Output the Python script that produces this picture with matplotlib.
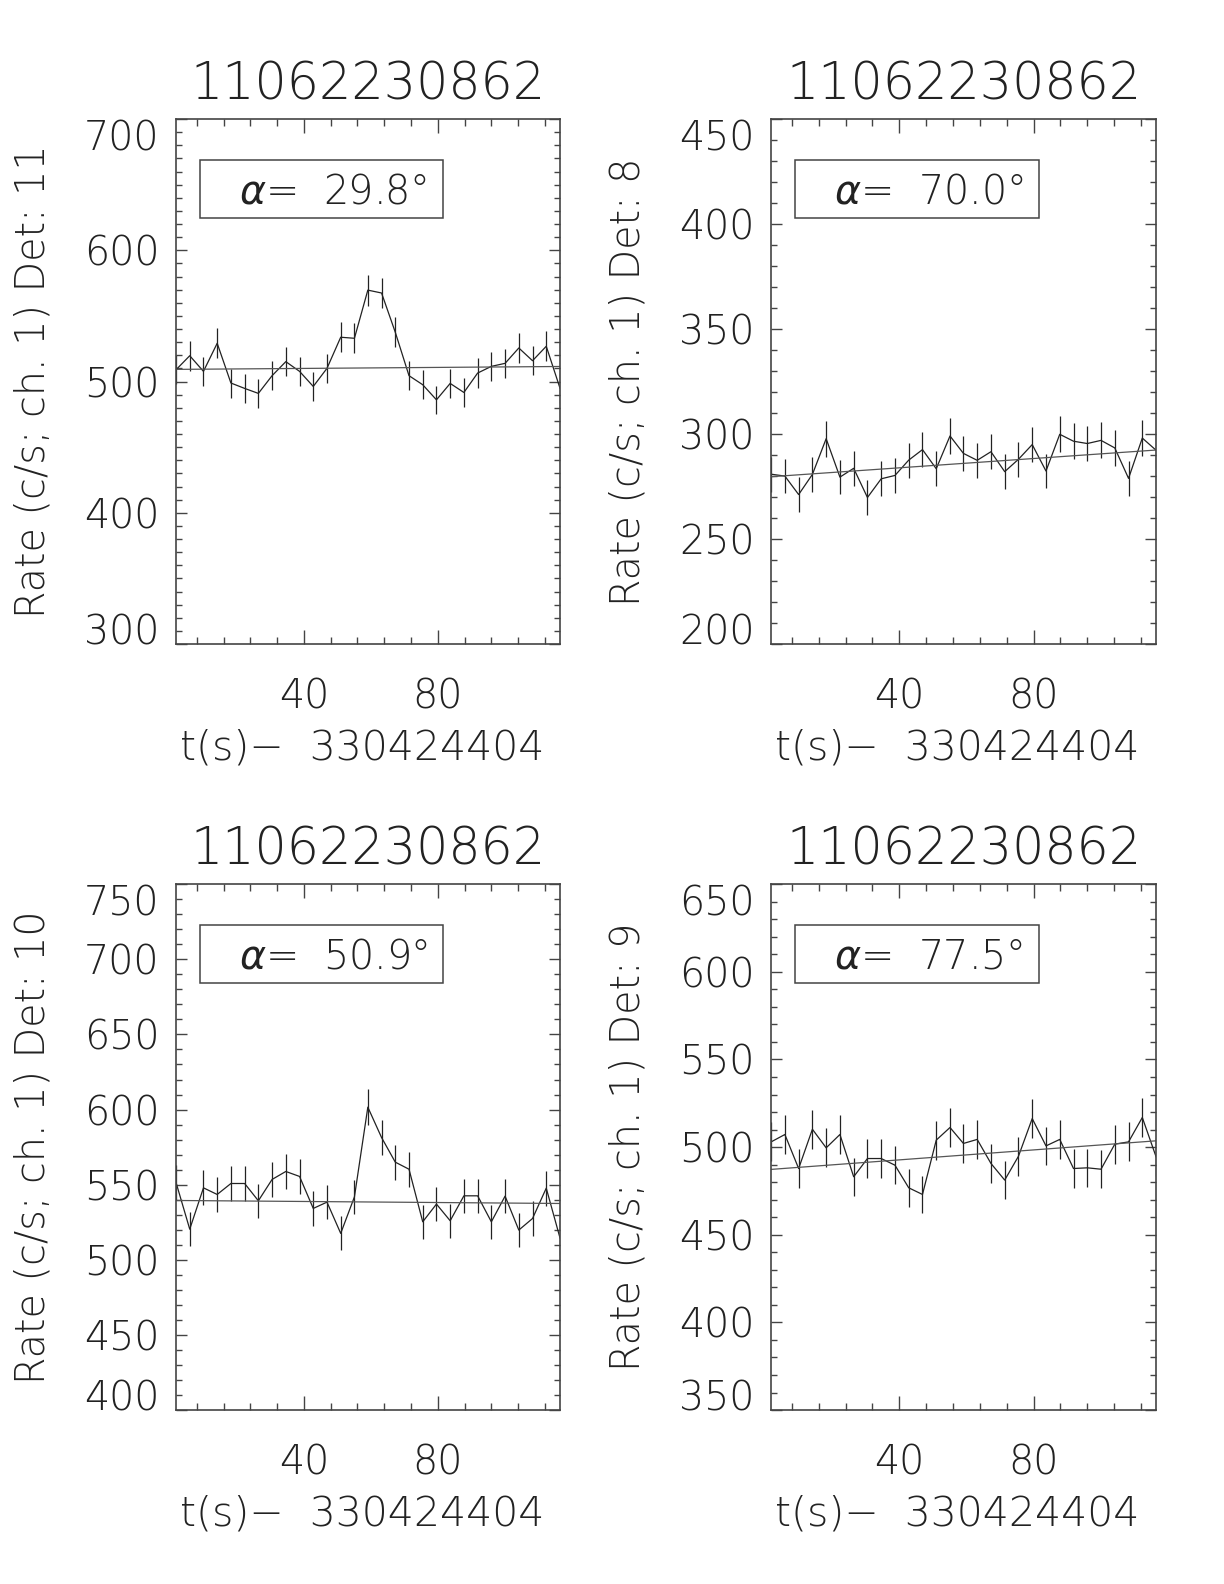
import matplotlib
matplotlib.use("Agg")
import matplotlib.pyplot as plt
from matplotlib.patches import Rectangle
from matplotlib.ticker import MultipleLocator, FixedLocator
import numpy as np

# bin times, s after t0 (4.096 s bins)
t = [1.8, 5.9, 10.0, 14.1, 18.2, 22.3, 26.4, 30.5, 34.6, 38.7,
     42.8, 46.9, 51.0, 55.1, 59.1, 63.2, 67.3, 71.4, 75.5, 79.6,
     83.7, 87.8, 91.9, 96.0, 100.1, 104.2, 108.3, 112.4, 116.5]
dt = 4.096

det11 = [509.0, 519.7, 507.8, 529.2, 498.9, 494.8, 491.0, 504.5, 515.2, 507.8,
         496.3, 510.1, 533.8, 533.0, 569.7, 567.5, 537.6, 504.5, 497.6, 486.1,
         498.6, 491.7, 506.5, 511.6, 513.9, 525.6, 515.9, 526.9, 495.0]
det8 = [280.9, 280.0, 271.2, 280.8, 297.8, 279.5, 283.7, 269.8, 278.7, 280.3,
        287.6, 292.6, 283.5, 299.1, 290.8, 287.5, 291.6, 282.1, 288.0, 295.0,
        282.4, 299.9, 296.6, 295.5, 297.0, 293.4, 278.9, 298.1, 292.3]
det10 = [551.5, 520.4, 547.9, 543.5, 550.8, 550.8, 539.3, 553.5, 558.8, 555.5,
         534.2, 538.4, 517.6, 541.9, 601.6, 581.4, 565.0, 560.3, 525.3, 537.1,
         526.0, 542.6, 542.6, 525.3, 542.4, 519.8, 527.5, 547.7, 514.6]
det9 = [503.0, 507.2, 487.8, 510.2, 499.6, 507.2, 483.1, 493.5, 493.5, 489.7,
        476.8, 473.0, 504.0, 511.2, 502.1, 504.4, 490.7, 481.2, 494.8, 516.3,
        500.7, 504.4, 487.8, 488.2, 487.4, 501.7, 503.0, 516.9, 494.5]

# background fit: value at first and last bin
fit11 = [509.3, 511.5]
fit8 = [279.7, 292.4]
fit10 = [539.5, 537.5]
fit9 = [487.3, 503.6]

detectors = [11, 8, 10, 9]
alphas = [29.8, 70.0, 50.9, 77.5]
ylims = [(300, 700), (200, 450), (400, 750), (350, 650)]
ysteps = [100, 50, 50, 50]
burst = "11062230862"
t0 = 330424404

rates = [det11, det8, det10, det9]
fits = [fit11, fit8, fit10, fit9]

plt.rcParams["font.family"] = ["DejaVu Sans"]
plt.rcParams["font.weight"] = "light"
plt.rcParams["mathtext.fontset"] = "dejavusans"

ink = "#222222"
fs = 28.5

fig = plt.figure(figsize=(12.24, 15.84), dpi=100)
rects = [[0.1438, 0.5934, 0.3137, 0.3314],
         [0.6300, 0.5934, 0.3145, 0.3314],
         [0.1438, 0.1098, 0.3137, 0.3320],
         [0.6300, 0.1098, 0.3145, 0.3320]]
ylab_x = [0.027, 0.513, 0.027, 0.513]

for i in range(4):
    ax = fig.add_axes(rects[i])
    r = np.array(rates[i])
    err = np.sqrt(r / dt)
    ax.plot(t, r, color=ink, lw=0.9)
    ax.errorbar(t, r, yerr=err, fmt="none", ecolor=ink, elinewidth=0.9, capsize=0)
    ax.plot([t[0], t[-1]], fits[i], color="#555555", lw=0.9)

    ax.set_xlim(t[0], t[-1])
    ax.set_ylim(*ylims[i])
    ax.xaxis.set_major_locator(FixedLocator([40, 80]))
    ax.xaxis.set_minor_locator(MultipleLocator(8))
    lo, hi = ylims[i]
    ax.yaxis.set_major_locator(FixedLocator(list(range(lo, hi + 1, ysteps[i]))))
    ax.yaxis.set_minor_locator(MultipleLocator(10))
    ax.tick_params(which="both", direction="in", top=True, right=True,
                   colors="#444444", labelcolor=ink, labelsize=fs)
    ax.tick_params(axis="x", which="major", length=10, width=1, pad=24)
    ax.tick_params(axis="x", which="minor", length=5, width=1)
    ax.tick_params(axis="y", which="major", length=8, width=1, pad=12)
    ax.tick_params(axis="y", which="minor", length=4, width=1)
    for s in ax.spines.values():
        s.set_color("#444444")
        s.set_linewidth(1.2)

    yt = ax.yaxis.get_major_ticks()
    yt[0].label1.set_verticalalignment("baseline")
    yt[-1].label1.set_verticalalignment("top")

    ax.text(0.5, 1.038, burst, transform=ax.transAxes, ha="center",
            va="baseline", fontsize=36.5, color=ink)
    ax.text(0.484, -0.22, "t(s)\u2212  %d" % t0, transform=ax.transAxes,
            ha="center", va="baseline", fontsize=29.5, color=ink)
    ax.add_patch(Rectangle((0.0625, 0.812), 0.634, 0.11, transform=ax.transAxes,
                           fill=False, edgecolor="#444444", lw=1.1))
    ax.text(0.164, 0.839, "$\\alpha$=  %.1f\u00b0" % alphas[i], transform=ax.transAxes,
            ha="left", va="baseline", fontsize=fs, color=ink)

    yc = rects[i][1] + rects[i][3] / 2
    fig.text(ylab_x[i], yc, "Rate (c/s; ch. 1) Det: %d" % detectors[i],
             rotation=90, ha="center", va="center", fontsize=fs, color=ink)

fig.savefig("out.png", dpi=100)
